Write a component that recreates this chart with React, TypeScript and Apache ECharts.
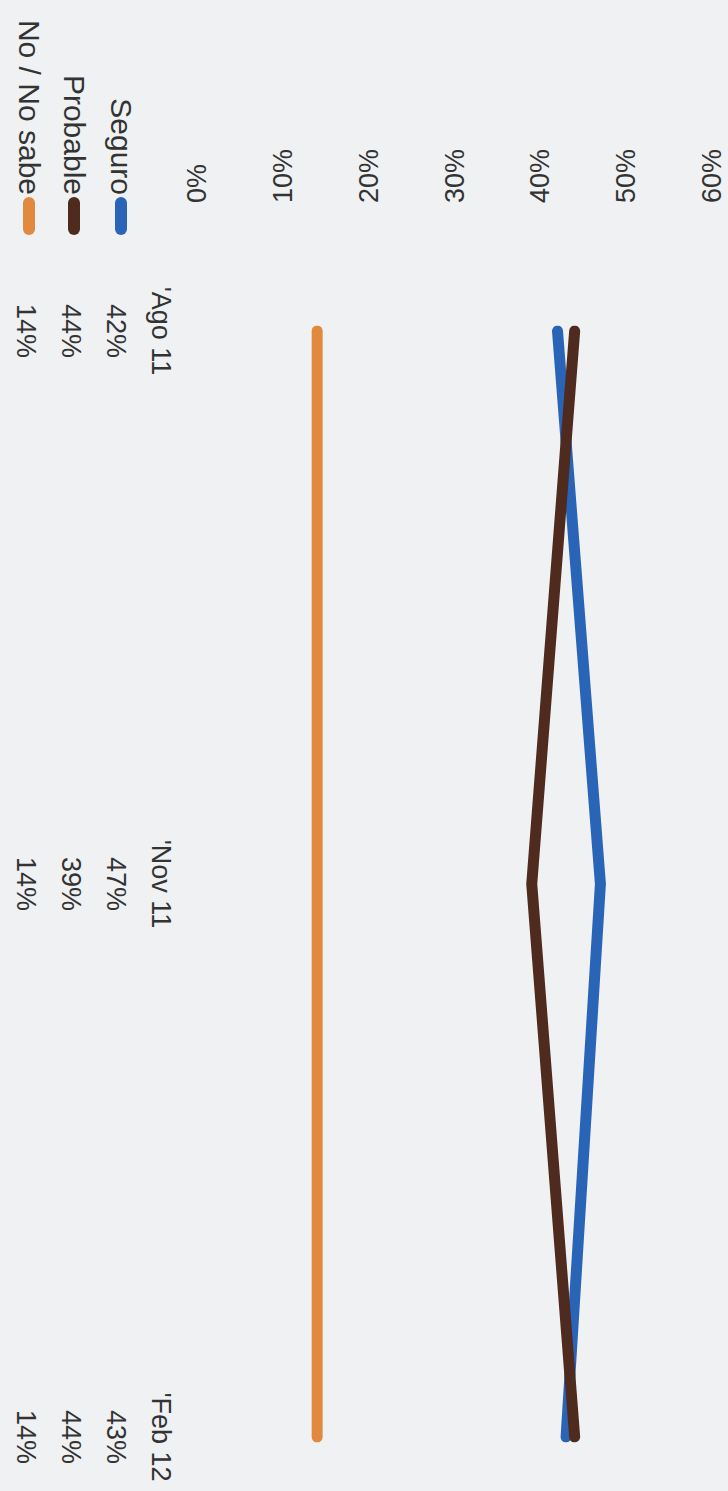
import React, { useEffect, useRef } from "react";
import * as echarts from "echarts";

const categories = ["'Ago 11", "'Nov 11", "'Feb 12"];
const seriesNames = ["Seguro", "Probable", "No / No sabe"];
const seguro = [42, 47, 43];
const probable = [44, 39, 44];
const noSabe = [14, 14, 14];
const valueMin = 0;
const valueMax = 60;
const valueStep = 10;

const colors = ["#2a64b6", "#4f2a1e", "#e0893f"];
const legendX = [121, 74, 29];
const FONT = "'Liberation Sans', Arial, Helvetica, sans-serif";
const TEXT = "#333333";
const FS = 27;
const LEGEND_FS = 30;

export default function App() {
  const ref = useRef<HTMLDivElement>(null);

  useEffect(() => {
    if (!ref.current) return;
    const chart = echarts.init(ref.current, undefined, { renderer: "svg" });
    const allSeries = [seguro, probable, noSabe];

    const legendGraphics: any[] = [];
    seriesNames.forEach((name, i) => {
      legendGraphics.push({
        type: "text",
        x: legendX[i],
        y: 195,
        rotation: -Math.PI / 2,
        style: {
          text: name,
          fill: TEXT,
          font: `${LEGEND_FS}px ${FONT}`,
          align: "right",
          verticalAlign: "middle",
        },
      });
      legendGraphics.push({
        type: "rect",
        shape: { x: legendX[i] - 6, y: 197, width: 12, height: 38, r: 6 },
        style: { fill: colors[i] },
      });
    });

    chart.setOption({
      animation: false,
      backgroundColor: "#eff1f3",
      textStyle: { fontFamily: FONT },
      grid: { left: 197, right: 16, top: 331, bottom: 54, containLabel: false },
      xAxis: {
        type: "value",
        position: "top",
        min: valueMin,
        max: valueMax,
        interval: valueStep,
        axisLine: { show: false },
        axisTick: { show: false },
        splitLine: { show: false },
        axisLabel: {
          formatter: "{value}%",
          rotate: -90,
          margin: 128,
          fontSize: FS,
          color: TEXT,
          fontFamily: FONT,
        },
      },
      yAxis: {
        type: "category",
        inverse: true,
        boundaryGap: false,
        data: categories,
        axisLine: { show: false },
        axisTick: { show: false },
        splitLine: { show: false },
        axisLabel: {
          rotate: -90,
          margin: 14,
          color: TEXT,
          fontFamily: FONT,
          formatter: (value: string, idx: number) => {
            const lines = [`{c|${value}}`];
            allSeries.forEach((s) => lines.push(`{v|${s[idx]}%}`));
            return lines.join("\n");
          },
          rich: {
            c: { align: "center", fontSize: FS, lineHeight: 45, color: TEXT, fontFamily: FONT },
            v: { align: "center", fontSize: FS, lineHeight: 45, color: TEXT, fontFamily: FONT },
          },
        },
      },
      series: seriesNames.map((name, i) => ({
        name,
        type: "line",
        data: allSeries[i],
        symbol: "none",
        lineStyle: { color: colors[i], width: 11, cap: "round", join: "round" },
        itemStyle: { color: colors[i] },
      })),
      graphic: legendGraphics,
    });

    return () => chart.dispose();
  }, []);

  return (
    <div
      ref={ref}
      style={{ position: "fixed", left: 0, top: 0, width: 728, height: 1491 }}
    />
  );
}
